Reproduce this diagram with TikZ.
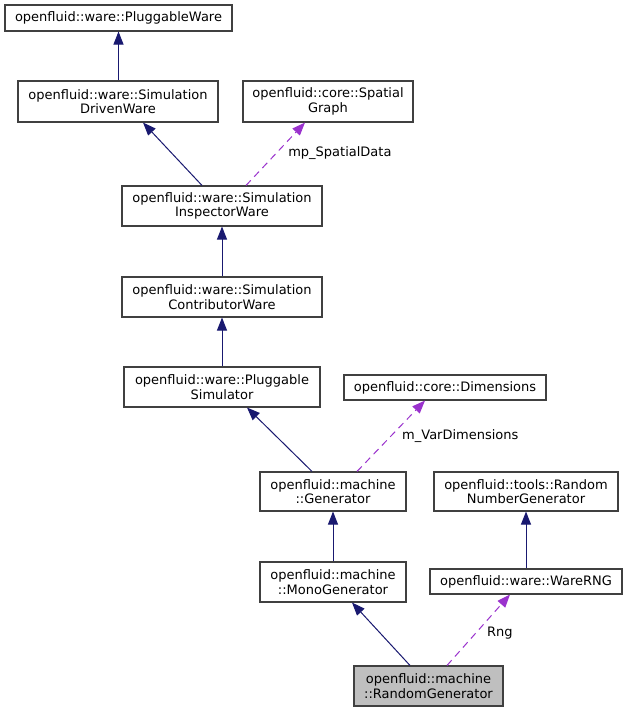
\documentclass[tikz,border=0pt]{standalone}
\usepackage{fontspec}
\setmainfont{DejaVu Sans}
\usetikzlibrary{arrows.meta}
\definecolor{inh}{HTML}{191970}
\definecolor{usg}{HTML}{9A32CD}
\definecolor{bord}{HTML}{404040}
\definecolor{hl}{HTML}{BFBFBF}
\tikzset{
  cls/.style={draw=bord, line width=1.1pt, fill=white, inner sep=0pt, align=center,
    font=\fontsize{13}{14.5}\selectfont, text=black},
  inhedge/.style={draw=inh, line width=1pt, -{Triangle[length=13pt,width=10pt]}},
  usgedge/.style={draw=usg, line width=1pt, dash pattern=on 7pt off 5pt, -{Triangle[length=13pt,width=10pt]}},
  elabel/.style={font=\fontsize{13}{14}\selectfont, text=black}
}
\begin{document}
\begin{tikzpicture}[x=1pt,y=-1pt]
\useasboundingbox[fill=white] (0,0) rectangle (628,712);
\node[cls, minimum width=227pt, minimum height=26pt] (pw) at (118.5,18) {openfluid::ware::PluggableWare};
\node[cls, minimum width=200pt, minimum height=41pt] (sdw) at (118,101.5) {openfluid::ware::Simulation\\DrivenWare};
\node[cls, minimum width=170pt, minimum height=41pt] (sg) at (328,101.5) {openfluid::core::Spatial\\Graph};
\node[cls, minimum width=200pt, minimum height=40pt] (siw) at (222,206) {openfluid::ware::Simulation\\InspectorWare};
\node[cls, minimum width=200pt, minimum height=40pt] (scw) at (222,297) {openfluid::ware::Simulation\\ContributorWare};
\node[cls, minimum width=196pt, minimum height=40pt] (ps) at (222,387) {openfluid::ware::Pluggable\\Simulator};
\node[cls, minimum width=202pt, minimum height=25pt] (dim) at (445,387.5) {openfluid::core::Dimensions};
\node[cls, minimum width=146pt, minimum height=39pt] (gen) at (333,491.5) {openfluid::machine\\::Generator};
\node[cls, minimum width=184pt, minimum height=39pt] (rng) at (526,491.5) {openfluid::tools::Random\\NumberGenerator};
\node[cls, minimum width=146pt, minimum height=40pt] (mono) at (333,582) {openfluid::machine\\::MonoGenerator};
\node[cls, minimum width=192pt, minimum height=25pt] (wrng) at (526,581.5) {openfluid::ware::WareRNG};
\node[cls, fill=hl, minimum width=149pt, minimum height=40pt] (rg) at (428.5,686) {openfluid::machine\\::RandomGenerator};

\draw[inhedge] (sdw.north -| pw.south) -- (pw.south);
\draw[inhedge] ([xshift=-20pt]siw.north) -- ([xshift=25pt]sdw.south);
\draw[usgedge] ([xshift=24pt]siw.north) -- node[elabel, right, pos=0.55, xshift=6pt, yshift=-2pt] {mp\_SpatialData} ([xshift=-23pt]sg.south);
\draw[inhedge] (scw.north) -- (siw.south);
\draw[inhedge] (ps.north) -- (scw.south);
\draw[inhedge] ([xshift=-21pt]gen.north) -- ([xshift=25pt]ps.south);
\draw[usgedge] ([xshift=24pt]gen.north) -- node[elabel, right, pos=0.52, xshift=6pt, yshift=-2pt] {m\_VarDimensions} ([xshift=-20pt]dim.south);
\draw[inhedge] (mono.north) -- (gen.south);
\draw[inhedge] ([xshift=-18.5pt]rg.north) -- ([xshift=19pt]mono.south);
\draw[usgedge] ([xshift=18.5pt]rg.north) -- node[elabel, right, pos=0.48, xshift=6pt, yshift=-2pt] {Rng} ([xshift=-16pt]wrng.south);
\draw[inhedge] (wrng.north) -- (rng.south);
\end{tikzpicture}
\end{document}
